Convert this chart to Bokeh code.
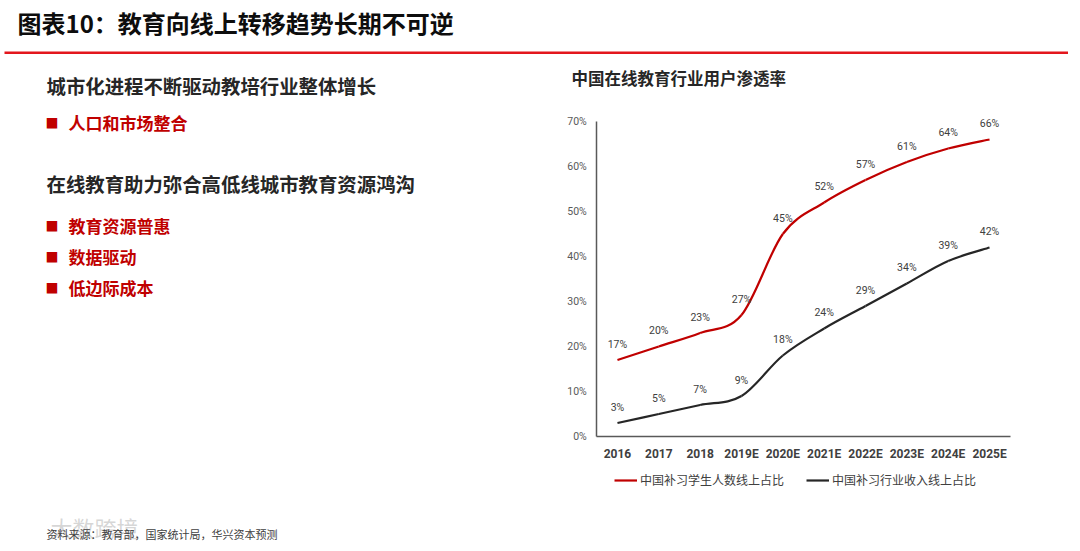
from bokeh.plotting import figure
from bokeh.models import Range1d, FixedTicker, Label, Legend, LegendItem, BoxAnnotation, ColumnDataSource
from bokeh.core.properties import value
from bokeh.embed import file_html
from bokeh.resources import INLINE

# ---------------- data ----------------
categories = ["2016", "2017", "2018", "2019E", "2020E", "2021E", "2022E", "2023E", "2024E", "2025E"]
students_online_share = [17, 20, 23, 27, 45, 52, 57, 61, 64, 66]
revenue_online_share = [3, 5, 7, 9, 18, 24, 29, 34, 39, 42]
y_ticks = [0, 10, 20, 30, 40, 50, 60, 70]
y_tick_labels = ["0%", "10%", "20%", "30%", "40%", "50%", "60%", "70%"]
series_names = ["中国补习学生人数线上占比", "中国补习行业收入线上占比"]

page_title = "图表10：教育向线上转移趋势长期不可逆"
chart_title = "中国在线教育行业用户渗透率"
heading_1 = "城市化进程不断驱动教培行业整体增长"
bullets_1 = ["人口和市场整合"]
heading_2 = "在线教育助力弥合高低线城市教育资源鸿沟"
bullets_2 = ["教育资源普惠", "数据驱动", "低边际成本"]
source_note = "资料来源：教育部，国家统计局，华兴资本预测"
watermark = "大数跨境"

RED = "#c00000"
DARK = "#262626"
GRAY = "#404040"
CJK = "Noto Sans CJK SC"
NUM = "Roboto"

# ---------------- layout (pixels on the canvas) ----------------
W, H = 1068, 543
PLOT_LEFT, PLOT_RIGHT = 596.3, 1009.7   # pixel extent of the category axis
PLOT_BOTTOM, PLOT_TOP = 436.0, 121.0    # pixel rows of 0% and 70%
n_cat = len(categories)
y_max = y_ticks[-1]
px_per_cat = (PLOT_RIGHT - PLOT_LEFT) / n_cat
px_per_unit = (PLOT_BOTTOM - PLOT_TOP) / y_max
x_lo = -0.5 - PLOT_LEFT / px_per_cat
x_hi = -0.5 + (W - PLOT_LEFT) / px_per_cat
y_lo = -(H - PLOT_BOTTOM) / px_per_unit
y_hi = PLOT_BOTTOM / px_per_unit

p = figure(width=W, height=H, output_backend="svg", toolbar_location=None,
           x_range=Range1d(x_lo, x_hi), y_range=Range1d(y_lo, y_hi),
           min_border=0, min_border_left=0, min_border_right=0, min_border_top=0, min_border_bottom=0)
p.outline_line_color = None
p.grid.visible = False
p.background_fill_color = "white"
p.border_fill_color = "white"

# axes, pinned to the chart's origin
p.xaxis.fixed_location = 0
p.xaxis.bounds = (-0.5, n_cat - 0.5)
p.xaxis.ticker = FixedTicker(ticks=list(range(n_cat)))
p.xaxis.major_label_overrides = {i: c for i, c in enumerate(categories)}
p.xaxis.major_tick_out = 0
p.xaxis.major_tick_in = 0
p.xaxis.minor_tick_out = 0
p.xaxis.minor_tick_in = 0
p.xaxis.axis_line_color = "#595959"
p.xaxis.axis_line_width = 1.5
p.xaxis.major_label_text_font = NUM
p.xaxis.major_label_text_font_size = "12px"
p.xaxis.major_label_text_font_style = "bold"
p.xaxis.major_label_text_color = GRAY
p.xaxis.major_label_standoff = 10

p.yaxis.fixed_location = -0.5
p.yaxis.bounds = (0, y_max)
p.yaxis.ticker = FixedTicker(ticks=y_ticks)
p.yaxis.major_label_overrides = {t: l for t, l in zip(y_ticks, y_tick_labels)}
p.yaxis.major_tick_out = 0
p.yaxis.major_tick_in = 0
p.yaxis.minor_tick_out = 0
p.yaxis.minor_tick_in = 0
p.yaxis.axis_line_color = "#595959"
p.yaxis.axis_line_width = 1.5
p.yaxis.major_label_text_font = NUM
p.yaxis.major_label_text_font_size = "10.5px"
p.yaxis.major_label_text_color = "#595959"
p.yaxis.major_label_standoff = 10


def smooth_segments(xs, ys):
    n = len(xs)
    d = dict(x0=[], y0=[], x1=[], y1=[], cx0=[], cy0=[], cx1=[], cy1=[])
    for i in range(n - 1):
        a = max(i - 1, 0)
        b = min(i + 2, n - 1)
        d["x0"].append(xs[i]); d["y0"].append(ys[i])
        d["x1"].append(xs[i + 1]); d["y1"].append(ys[i + 1])
        d["cx0"].append(xs[i] + (xs[i + 1] - xs[a]) / 6)
        d["cy0"].append(ys[i] + (ys[i + 1] - ys[a]) / 6)
        d["cx1"].append(xs[i + 1] - (xs[b] - xs[i]) / 6)
        d["cy1"].append(ys[i + 1] - (ys[b] - ys[i]) / 6)
    return ColumnDataSource(d)


xs = list(range(n_cat))
renderers = []
for vals, color in [(students_online_share, RED), (revenue_online_share, DARK)]:
    src = smooth_segments(xs, vals)
    r = p.bezier(x0="x0", y0="y0", x1="x1", y1="y1", cx0="cx0", cy0="cy0", cx1="cx1", cy1="cy1",
                 source=src, line_color=color, line_width=2.2)
    renderers.append(r)
    p.text(x=xs, y=vals, text=[f"{v}%" for v in vals], text_align="center", text_baseline="middle",
           y_offset=-16, text_font=value(NUM), text_font_size="10.5px", text_color=GRAY)

LEG_H = 14
legend = Legend(items=[LegendItem(label=series_names[0], renderers=[renderers[0]]),
                       LegendItem(label=series_names[1], renderers=[renderers[1]])],
                orientation="horizontal", location=(614, H - 474 - LEG_H), padding=0, margin=0,
                spacing=22, glyph_width=23, glyph_height=LEG_H, label_height=LEG_H, label_standoff=3,
                label_text_font=CJK, label_text_font_size="12px", label_text_color=GRAY,
                border_line_alpha=0, background_fill_alpha=0)
p.add_layout(legend)


# ------------- surrounding texts (screen units from the canvas' bottom-left) -------------
def lab(text, px, py, size, color, bold=False, font=CJK, alpha=1.0):
    p.add_layout(Label(x=px, y=H - py, x_units="screen", y_units="screen", text=text,
                       text_font=font, text_font_size=f"{size}px", text_color=color,
                       text_font_style="bold" if bold else "normal", text_alpha=alpha,
                       text_align="left", text_baseline="middle"))


lab(page_title, 17, 22, 24, "#0d0d0d", bold=True)
p.add_layout(BoxAnnotation(left=4, right=W, top=H - 51, bottom=H - 53.5,
                           left_units="screen", right_units="screen", top_units="screen",
                           bottom_units="screen", fill_color="#e3161d", fill_alpha=1, line_alpha=0))

lab(heading_1, 46, 85, 19.4, DARK, bold=True)
for t, py in zip(bullets_1, [122]):
    lab("■", 45, py, 13, RED)
    lab(t, 68, py, 17, RED, bold=True)
lab(heading_2, 46, 183, 19.4, DARK, bold=True)
for t, py in zip(bullets_2, [225, 256, 287]):
    lab("■", 45, py, 13, RED)
    lab(t, 68, py, 17, RED, bold=True)

lab(chart_title, 571, 77, 16.5, DARK, bold=True)
lab(watermark, 50, 526, 22, "#bbbbbb", alpha=0.6)
lab(source_note, 46, 533, 11, GRAY)

open("out.html", "w").write(file_html(p, INLINE))
